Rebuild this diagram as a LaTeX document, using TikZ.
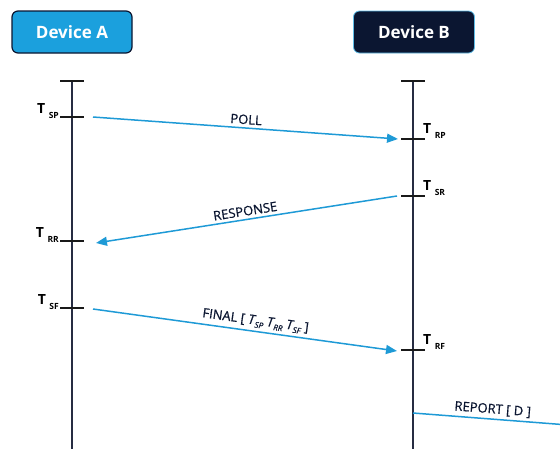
\documentclass[tikz,border=0pt]{standalone}
\usepackage{fontspec}
\setmainfont{Open Sans}
\newfontfamily\semifont[FakeBold=0.7]{Open Sans}
\usetikzlibrary{arrows.meta}

\definecolor{devblue}{HTML}{1BA0DD}
\definecolor{navy}{HTML}{0B1631}
\definecolor{lifeline}{HTML}{262C42}
\definecolor{msgblue}{HTML}{1E9AD6}

% time-stamp label: bold T with lowered small index
\newcommand{\tstamp}[1]{{\fontsize{14}{14}\selectfont\bfseries T}\hspace{3.5pt}\raisebox{-5pt}{\fontsize{8.5}{8.5}\selectfont\bfseries #1}}
% italic time-stamp inside message text
\newcommand{\tmsg}[1]{{\itshape T\hspace{0.5pt}\raisebox{-3pt}{\fontsize{8}{8}\selectfont #1}}}

\begin{document}
\begin{tikzpicture}[x=1pt,y=-1pt,
  devbox/.style={rounded corners=6pt, minimum width=120pt, minimum height=42pt,
    font=\fontsize{17}{17}\selectfont\bfseries, text=white},
  life/.style={draw=lifeline, line width=1.8pt},
  tickmark/.style={draw=black!90, line width=1.8pt},
  msg/.style={draw=msgblue, line width=1.5pt, -{Triangle[length=11pt,width=9pt]}},
  msgplain/.style={draw=msgblue, line width=1.5pt},
  mlabel/.style={font=\semifont\fontsize{13}{13}\selectfont, text=navy, sloped, above, inner sep=3pt},
  tsl/.style={anchor=base east, inner sep=0pt, text=black},
  tsr/.style={anchor=base west, inner sep=0pt, text=black}]
\useasboundingbox (0,0) rectangle (560,448);

% participants
\node[devbox, fill=devblue, draw=navy, line width=1.2pt] (devA) at (72,32) {Device A};
\node[devbox, fill=navy, draw=devblue!70, line width=0.8pt, minimum width=121pt] (devB) at (414,32) {Device B};

% lifelines
\coordinate (topA) at (72,81);
\coordinate (botA) at (72,449);
\coordinate (topB) at (413,81);
\coordinate (botB) at (413,449);
\draw[life] (topA) -- (botA);
\draw[life] (topB) -- (botB);
\draw[tickmark] ([xshift=-12pt]topA) -- ([xshift=12pt]topA);
\draw[tickmark] ([xshift=-12pt]topB) -- ([xshift=12pt]topB);

% event instants
\coordinate (tSP) at (72,117);
\coordinate (tRR) at (72,241);
\coordinate (tSF) at (72,308);
\coordinate (tRP) at (413,139);
\coordinate (tSR) at (413,196);
\coordinate (tRF) at (413,350);
\foreach \c in {tSP,tRR,tSF,tRP,tSR,tRF}
  \draw[tickmark] ([xshift=-12pt]\c) -- ([xshift=12pt]\c);

% time-stamp labels
\node[tsl] (lSP) at ([xshift=-13pt,yshift=4pt]tSP) {\tstamp{SP}};
\node[tsl] (lRR) at ([xshift=-13pt,yshift=4pt]tRR) {\tstamp{RR}};
\node[tsl] (lSF) at ([xshift=-13pt,yshift=4pt]tSF) {\tstamp{SF}};
\node[tsr] (lRP) at ([xshift=10pt,yshift=6pt]tRP) {\tstamp{RP}};
\node[tsr] (lSR) at ([xshift=10pt,yshift=6pt]tSR) {\tstamp{SR}};
\node[tsr] (lRF) at ([xshift=10pt,yshift=6pt]tRF) {\tstamp{RF}};

% messages
\draw[msg] ([xshift=21pt]tSP) -- node[mlabel, pos=0.5] {POLL} ([xshift=-15pt]tRP);
\draw[msg] ([xshift=-16pt]tSR) -- node[mlabel, pos=0.5] {RESPONSE} ([xshift=24pt,yshift=-2pt]tRR);
\draw[msg] ([xshift=21pt,yshift=-1pt]tSF) -- node[mlabel, pos=0.53] {FINAL [ \tmsg{SP} \tmsg{RR} \tmsg{SF} ]} ([xshift=-16pt,yshift=-1pt]tRF);
\coordinate (rep) at (413,413);
\coordinate (repEnd) at (562,424.5);
\draw[msgplain] (rep) -- node[mlabel, pos=0.53] {REPORT [ D ]} (repEnd);
\end{tikzpicture}
\end{document}
